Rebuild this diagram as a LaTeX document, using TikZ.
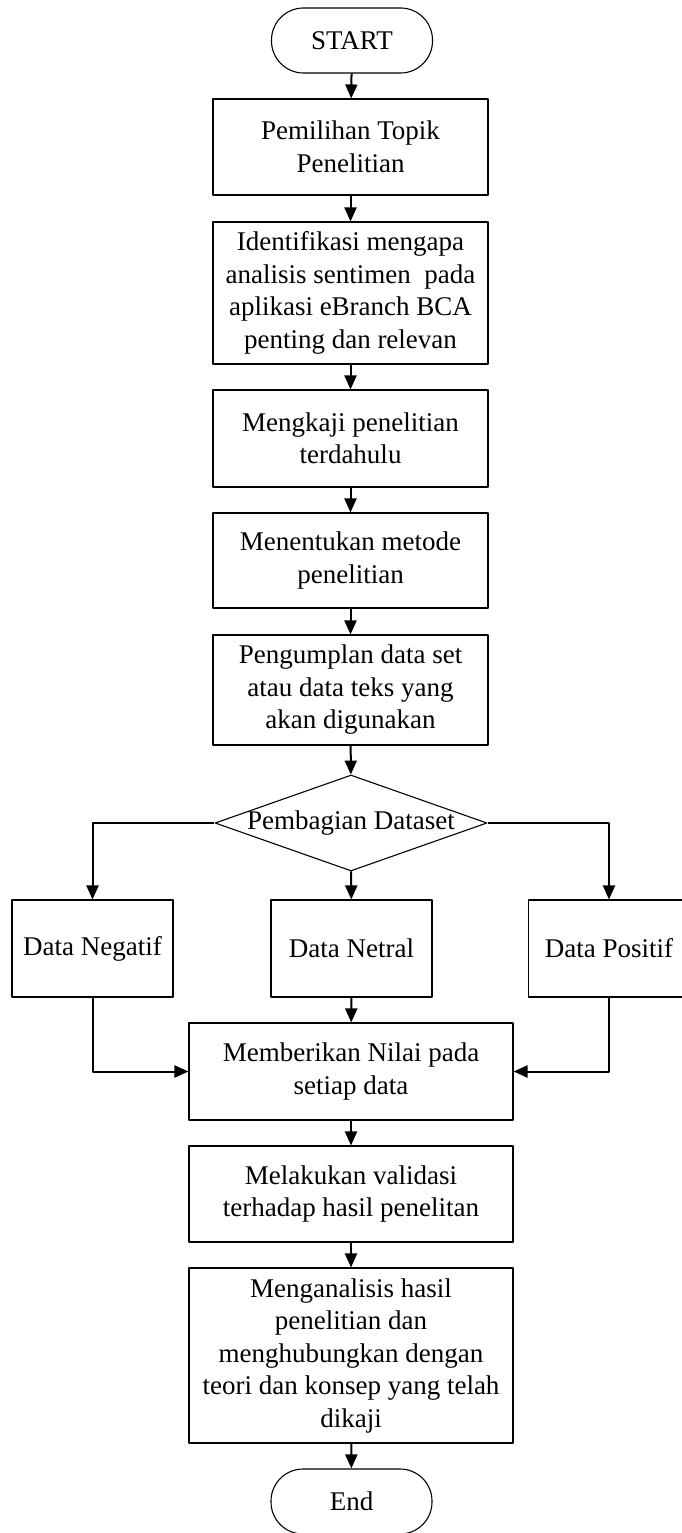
\documentclass[tikz,border=0pt]{standalone}
\usepackage{fontspec}
\setmainfont{Liberation Serif}
\usetikzlibrary{arrows.meta,shapes.geometric}

\begin{document}
\begin{tikzpicture}[x=1pt, y=-1pt, line join=round,
    >={Triangle[length=14pt,width=12pt]},
    proc/.style={draw, line width=1.1pt, align=center, inner sep=0pt,
      font=\fontsize{27}{32.5}\selectfont},
    term/.style={proc, rounded corners=32pt, minimum width=161pt, minimum height=65pt},
    dec/.style={proc, diamond, aspect=2.8, minimum width=272pt, minimum height=96pt},
    link/.style={->, line width=2pt}]
  \useasboundingbox (0,0) rectangle (681,1533);

  % main column
  \node[term] (start) at (352,40.5) {START};
  \node[proc, minimum width=275pt, minimum height=96pt] (topik) at (350.5,147)
    {Pemilihan Topik\\Penelitian};
  \node[proc, minimum width=275pt, minimum height=142pt] (identif) at (350.5,293)
    {Identifikasi mengapa\\analisis sentimen\ \ pada\\aplikasi eBranch BCA\\penting dan relevan};
  \node[proc, minimum width=275pt, minimum height=97pt] (kaji) at (350.5,438.5)
    {Mengkaji penelitian\\terdahulu};
  \node[proc, minimum width=275pt, minimum height=95pt] (metode) at (350.5,560.5)
    {Menentukan metode\\penelitian};
  \node[proc, minimum width=275pt, minimum height=110pt] (kumpul) at (350.5,690)
    {Pengumplan data set\\atau data teks yang\\akan digunakan};
  \node[dec] (bagi) at (351,823) {\makebox[0pt]{Pembagian Dataset}};

  % three classes
  \node[proc, minimum width=161pt, minimum height=97pt] (negatif) at (92.5,948.5) {Data Negatif};
  \node[proc, minimum width=161pt, minimum height=97pt] (netral) at (351.5,948.5) {Data Netral};
  \node[proc, minimum width=161pt, minimum height=97pt] (positif) at (609,948.5) {Data Positif};

  % lower column
  \node[proc, minimum width=324pt, minimum height=97pt] (nilai) at (351,1071.5)
    {Memberikan Nilai pada\\setiap data};
  \node[proc, minimum width=324pt, minimum height=96pt] (valid) at (351,1194)
    {Melakukan validasi\\terhadap hasil penelitan};
  \node[proc, minimum width=324pt, minimum height=175pt] (analisis) at (351,1355.5)
    {Menganalisis hasil\\penelitian dan\\menghubungkan dengan\\teori dan konsep yang telah\\dikaji};
  \node[term] (end) at (351.5,1501.5) {End};

  % connectors
  \foreach \a/\b in {start/topik, topik/identif, identif/kaji, kaji/metode,
      metode/kumpul, kumpul/bagi, bagi/netral, netral/nilai, nilai/valid,
      valid/analisis, analisis/end}
    \draw[link] (\a) -- (\b);
  \draw[link] (bagi.west) -| (negatif);
  \draw[link] (bagi.east) -| (positif);
  \draw[link] (negatif) |- (nilai);
  \draw[link] (positif) |- (nilai);
\end{tikzpicture}
\end{document}
